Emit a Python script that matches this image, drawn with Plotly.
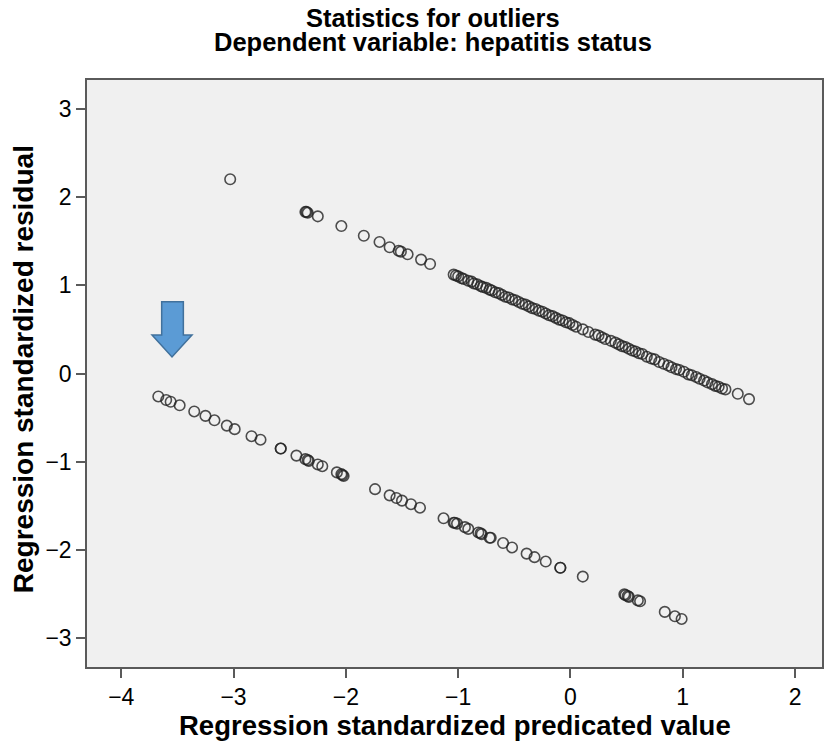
import plotly.graph_objects as go

# upper band (hepatitis = 1)
upper_x = [-3.03, -2.36, -2.35, -2.34, -2.25, -2.04, -1.84, -1.70, -1.61, -1.53, -1.51, -1.45, -1.33, -1.25,
           -1.04, -1.02, -1.00, -0.97, -0.95, -0.91, -0.88, -0.86, -0.83, -0.80, -0.78, -0.75, -0.72, -0.70,
           -0.67, -0.64, -0.61, -0.58, -0.55, -0.52, -0.49, -0.46, -0.43, -0.40, -0.37, -0.34, -0.31, -0.28,
           -0.25, -0.22, -0.19, -0.16, -0.13, -0.10, -0.07, -0.04, -0.01, 0.02, 0.05, 0.11, 0.16, 0.22, 0.25,
           0.28, 0.31, 0.36, 0.40, 0.43, 0.46, 0.49, 0.52, 0.55, 0.58, 0.61, 0.64, 0.68, 0.72, 0.75, 0.79,
           0.83, 0.87, 0.90, 0.94, 0.97, 1.01, 1.05, 1.08, 1.12, 1.15, 1.19, 1.22, 1.26, 1.29, 1.32, 1.35,
           1.38, 1.49, 1.59]
upper_y = [2.20, 1.83, 1.83, 1.82, 1.78, 1.67, 1.56, 1.49, 1.43, 1.39, 1.38, 1.35, 1.29, 1.24,
           1.12, 1.11, 1.10, 1.08, 1.07, 1.05, 1.04, 1.02, 1.01, 0.99, 0.98, 0.97, 0.95, 0.94,
           0.92, 0.91, 0.89, 0.87, 0.86, 0.84, 0.83, 0.81, 0.79, 0.78, 0.76, 0.74, 0.73, 0.71,
           0.70, 0.68, 0.66, 0.65, 0.63, 0.61, 0.60, 0.58, 0.57, 0.55, 0.53, 0.50, 0.47, 0.44, 0.43,
           0.41, 0.39, 0.37, 0.35, 0.33, 0.31, 0.30, 0.28, 0.26, 0.25, 0.23, 0.22, 0.19, 0.17, 0.16, 0.13,
           0.11, 0.09, 0.07, 0.05, 0.04, 0.02, -0.01, -0.02, -0.04, -0.06, -0.08, -0.10, -0.12, -0.14, -0.15,
           -0.17, -0.18, -0.23, -0.29]

# lower band (hepatitis = 0)
lower_x = [-3.67, -3.60, -3.56, -3.48, -3.35, -3.25, -3.17, -3.06, -2.99, -2.84, -2.76, -2.58, -2.58,
           -2.44, -2.36, -2.34, -2.33, -2.25, -2.21, -2.08, -2.04, -2.03, -2.02, -1.74, -1.61, -1.55,
           -1.50, -1.42, -1.34, -1.13, -1.04, -1.03, -1.01, -0.94, -0.91, -0.82, -0.80, -0.79, -0.72,
           -0.71, -0.60, -0.52, -0.39, -0.32, -0.22, -0.09, -0.09, 0.11, 0.48, 0.49, 0.51, 0.52, 0.60,
           0.62, 0.84, 0.93, 0.99]
lower_y = [-0.26, -0.30, -0.32, -0.36, -0.43, -0.48, -0.53, -0.59, -0.63, -0.71, -0.75, -0.85, -0.85,
           -0.93, -0.97, -0.98, -0.99, -1.03, -1.05, -1.12, -1.14, -1.15, -1.16, -1.31, -1.38, -1.41,
           -1.44, -1.48, -1.52, -1.64, -1.69, -1.69, -1.70, -1.74, -1.76, -1.80, -1.81, -1.82, -1.86,
           -1.86, -1.92, -1.97, -2.04, -2.08, -2.13, -2.20, -2.20, -2.30, -2.50, -2.51, -2.52, -2.53, -2.57,
           -2.58, -2.70, -2.75, -2.78]

x_ticks = [-4, -3, -2, -1, 0, 1, 2]
y_ticks = [-3, -2, -1, 0, 1, 2, 3]

FONT = "Liberation Sans, Arial, sans-serif"
AXIS_COL = "#5a5a5a"

fig = go.Figure()
fig.add_trace(go.Scatter(
    x=upper_x + lower_x, y=upper_y + lower_y,
    mode="markers",
    marker=dict(symbol="circle-open", size=10.5, color="rgba(35,35,35,0.8)", line=dict(width=1.6)),
    showlegend=False,
    hoverinfo="x+y",
))

# blue arrow pointing at the lower band (data coords)
ax_l, ax_r = -3.64, -3.447
hd_l, hd_r = -3.726, -3.37
y_top, y_head, y_tip = 0.813, 0.436, 0.187
xc = (hd_l + hd_r) / 2
arrow = (f"M {ax_l},{y_top} L {ax_r},{y_top} L {ax_r},{y_head} L {hd_r},{y_head} "
         f"L {xc},{y_tip} L {hd_l},{y_head} L {ax_l},{y_head} Z")

# page body has an 8px margin, so the figure is 8px smaller than the window
fig.update_layout(
    width=827, height=738,
    margin=dict(l=79, r=13, t=72, b=79),
    paper_bgcolor="white",
    plot_bgcolor="#f0f0f0",
    shapes=[dict(type="path", path=arrow, xref="x", yref="y",
                 fillcolor="#5b9bd5", line=dict(color="#41719c", width=1.5))],
    annotations=[
        dict(text="<b>Statistics for outliers</b>", xref="paper", yref="paper",
             x=0.4707, y=1.1056, xanchor="center", yanchor="middle", showarrow=False,
             font=dict(family=FONT, size=25.5, color="black")),
        dict(text="<b>Dependent variable: hepatitis status</b>", xref="paper", yref="paper",
             x=0.4707, y=1.0639, xanchor="center", yanchor="middle", showarrow=False,
             font=dict(family=FONT, size=25.5, color="black")),
        dict(text="<b>Regression standardized predicated value</b>", xref="paper", yref="paper",
             x=0.5007, y=-0.099, xanchor="center", yanchor="middle", showarrow=False,
             font=dict(family=FONT, size=27.5, color="black")),
        dict(text="<b>Regression standardized residual</b>", xref="paper", yref="paper",
             x=-0.0865, y=0.508, xanchor="center", yanchor="middle", textangle=-90, showarrow=False,
             font=dict(family=FONT, size=28, color="black")),
    ],
)

fig.update_xaxes(
    range=[-4.305, 2.24], tickvals=x_ticks, ticks="outside", ticklen=9, tickwidth=1.5,
    tickcolor=AXIS_COL, showline=True, linecolor=AXIS_COL, linewidth=1.5, mirror=True,
    showgrid=False, zeroline=False, tickfont=dict(family=FONT, size=23, color="black"),
)
fig.update_yaxes(
    range=[-3.324, 3.324], tickvals=y_ticks, ticks="outside", ticklen=9, tickwidth=1.5,
    tickcolor=AXIS_COL, showline=True, linecolor=AXIS_COL, linewidth=1.5, mirror=True,
    showgrid=False, zeroline=False, tickfont=dict(family=FONT, size=23, color="black"),
)

fig.write_html("out.html")
